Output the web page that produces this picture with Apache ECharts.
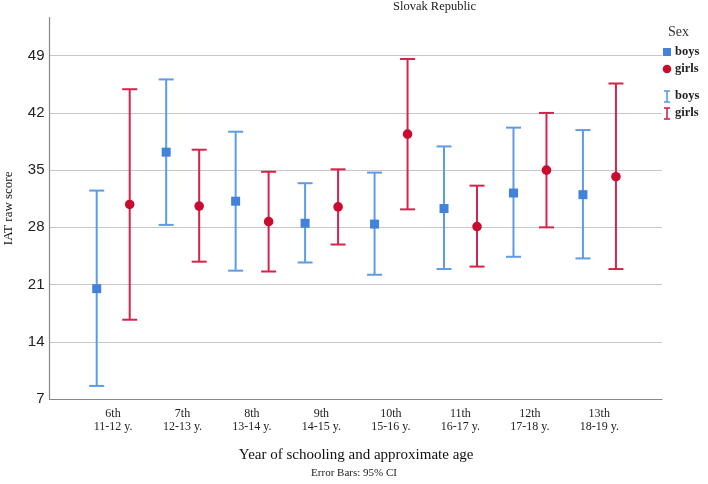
<!DOCTYPE html>
<html>
<head>
<meta charset="utf-8">
<script src="https://cdn.jsdelivr.net/npm/echarts@6/dist/echarts.min.js"></script>
<style>html,body{margin:0;padding:0;background:#fff}#c{width:708px;height:484px}</style>
</head>
<body>
<div id="c"></div>
<script>
var categories = ['6th\n11-12 y.', '7th\n12-13 y.', '8th\n13-14 y.', '9th\n14-15 y.', '10th\n15-16 y.', '11th\n16-17 y.', '12th\n17-18 y.', '13th\n18-19 y.'];
var boysMean  = [20.5, 37.2, 31.2, 28.5, 28.4, 30.3, 32.2, 32.0];
var boysLow   = [8.6, 28.3, 22.7, 23.7, 22.2, 22.9, 24.4, 24.2];
var boysHigh  = [32.5, 46.1, 39.7, 33.4, 34.7, 37.9, 40.2, 39.9];
var girlsMean = [30.8, 30.6, 28.7, 30.5, 39.4, 28.1, 35.0, 34.2];
var girlsLow  = [16.7, 23.8, 22.6, 25.9, 30.2, 23.2, 28.0, 22.9];
var girlsHigh = [44.9, 37.5, 34.8, 35.1, 48.6, 33.1, 42.0, 45.6];
var yTicks = [7, 14, 21, 28, 35, 42, 49];

var FONT = '"Liberation Serif", "DejaVu Serif", serif';
var SANS = '"Liberation Sans", Arial, sans-serif';
var BOYS_LINE = '#5d9be6', BOYS_MARK = '#4382da';
var GIRLS_LINE = '#d4244c', GIRLS_MARK = '#c90b2f';
var YMIN = 7, YMAX = 53.65;

function build(mean, low, high) {
  return mean.map(function (m, i) { return [i, m, low[i], high[i]]; });
}

function makeRender(offsetFrac, lineColor, markColor, shape) {
  return function (params, api) {
    var idx = api.value(0);
    var band = api.size([1, 0])[0];
    var dx = offsetFrac * band;
    var pm = api.coord([idx, api.value(1)]);
    var pl = api.coord([idx, api.value(2)]);
    var ph = api.coord([idx, api.value(3)]);
    var x = pm[0] + dx;
    var cap = 7.5;
    var st = { stroke: lineColor, lineWidth: 2 };
    var children = [
      { type: 'line', shape: { x1: x, y1: pl[1], x2: x, y2: ph[1] }, style: st },
      { type: 'line', shape: { x1: x - cap, y1: pl[1], x2: x + cap, y2: pl[1] }, style: st },
      { type: 'line', shape: { x1: x - cap, y1: ph[1], x2: x + cap, y2: ph[1] }, style: st }
    ];
    if (shape === 'rect') {
      children.push({ type: 'rect', shape: { x: x - 4.5, y: pm[1] - 4.5, width: 9, height: 9 }, style: { fill: markColor } });
    } else {
      children.push({ type: 'circle', shape: { cx: x, cy: pm[1], r: 4.8 }, style: { fill: markColor } });
    }
    return { type: 'group', children: children };
  };
}

var chart = echarts.init(document.getElementById('c'), null, { renderer: 'canvas' });
chart.setOption({
  animation: false,
  textStyle: { fontFamily: FONT },
  grid: [
    { left: 49.5, right: 46, top: 17.7, bottom: 85, outerBoundsMode: 'none', containLabel: false },
    { left: 78.3, right: 74, top: 17.7, bottom: 85, outerBoundsMode: 'none', containLabel: false }
  ],
  xAxis: [
    { gridIndex: 0, type: 'value', min: 0, max: 1, axisLine: { show: true, lineStyle: { color: '#888', width: 1.2 } },
      axisTick: { show: false }, axisLabel: { show: false }, splitLine: { show: false } },
    { gridIndex: 1, type: 'category', data: categories, axisLine: { show: false }, axisTick: { show: false },
      axisLabel: { margin: 8, color: '#222', fontSize: 12, lineHeight: 13, fontFamily: FONT },
      name: 'Year of schooling and approximate age', nameLocation: 'middle', nameGap: 49,
      nameTextStyle: { fontSize: 15, color: '#111', fontFamily: FONT } }
  ],
  yAxis: [
    { gridIndex: 0, type: 'value', min: YMIN, max: YMAX, interval: 7,
      axisLine: { show: true, lineStyle: { color: '#888', width: 1.2 } }, axisTick: { show: false },
      axisLabel: { fontSize: 15, color: '#222', margin: 5, fontFamily: SANS,
        formatter: function (v) { return yTicks.indexOf(v) >= 0 ? String(v) : ''; } },
      splitLine: { show: true, showMinLine: false, showMaxLine: false, lineStyle: { color: '#c8c8c8', width: 1.2 } },
      name: 'IAT raw score', nameLocation: 'middle', nameGap: 34, nameRotate: 90,
      nameTextStyle: { fontSize: 13, color: '#111', fontFamily: FONT } },
    { gridIndex: 1, type: 'value', min: YMIN, max: YMAX, show: false, splitLine: { show: false } }
  ],
  series: [
    { type: 'custom', name: 'boys', xAxisIndex: 1, yAxisIndex: 1, data: build(boysMean, boysLow, boysHigh),
      renderItem: makeRender(-0.235, BOYS_LINE, BOYS_MARK, 'rect'), encode: { x: 0, y: [1, 2, 3] } },
    { type: 'custom', name: 'girls', xAxisIndex: 1, yAxisIndex: 1, data: build(girlsMean, girlsLow, girlsHigh),
      renderItem: makeRender(0.24, GIRLS_LINE, GIRLS_MARK, 'circle'), encode: { x: 0, y: [1, 2, 3] } }
  ],
  graphic: [
    { type: 'text', left: 393, top: 0, style: { text: 'Slovak Republic', font: '12.5px ' + FONT, fill: '#222' } },
    { type: 'text', left: 'center', top: 468, style: { text: 'Error Bars: 95% CI', font: '11px ' + FONT, fill: '#222' } },
    { type: 'text', left: 668, top: 25, style: { text: 'Sex', font: '14px ' + FONT, fill: '#333' } },
    { type: 'rect', shape: { x: 663, y: 48, width: 8, height: 8 }, style: { fill: BOYS_MARK } },
    { type: 'text', left: 675, top: 45, style: { text: 'boys', font: 'bold 12.5px ' + FONT, fill: '#222' } },
    { type: 'circle', shape: { cx: 667, cy: 69, r: 4.3 }, style: { fill: GIRLS_MARK } },
    { type: 'text', left: 675, top: 62, style: { text: 'girls', font: 'bold 12.5px ' + FONT, fill: '#222' } },
    { type: 'group', children: [
      { type: 'line', shape: { x1: 667, y1: 91, x2: 667, y2: 102 }, style: { stroke: BOYS_LINE, lineWidth: 1.6 } },
      { type: 'line', shape: { x1: 664, y1: 91, x2: 670, y2: 91 }, style: { stroke: BOYS_LINE, lineWidth: 1.6 } },
      { type: 'line', shape: { x1: 664, y1: 102, x2: 670, y2: 102 }, style: { stroke: BOYS_LINE, lineWidth: 1.6 } },
      { type: 'line', shape: { x1: 667, y1: 108, x2: 667, y2: 119 }, style: { stroke: GIRLS_LINE, lineWidth: 1.6 } },
      { type: 'line', shape: { x1: 664, y1: 108, x2: 670, y2: 108 }, style: { stroke: GIRLS_LINE, lineWidth: 1.6 } },
      { type: 'line', shape: { x1: 664, y1: 119, x2: 670, y2: 119 }, style: { stroke: GIRLS_LINE, lineWidth: 1.6 } }
    ] },
    { type: 'text', left: 675, top: 89, style: { text: 'boys', font: 'bold 12.5px ' + FONT, fill: '#222' } },
    { type: 'text', left: 675, top: 106, style: { text: 'girls', font: 'bold 12.5px ' + FONT, fill: '#222' } }
  ]
});
</script>
</body>
</html>
